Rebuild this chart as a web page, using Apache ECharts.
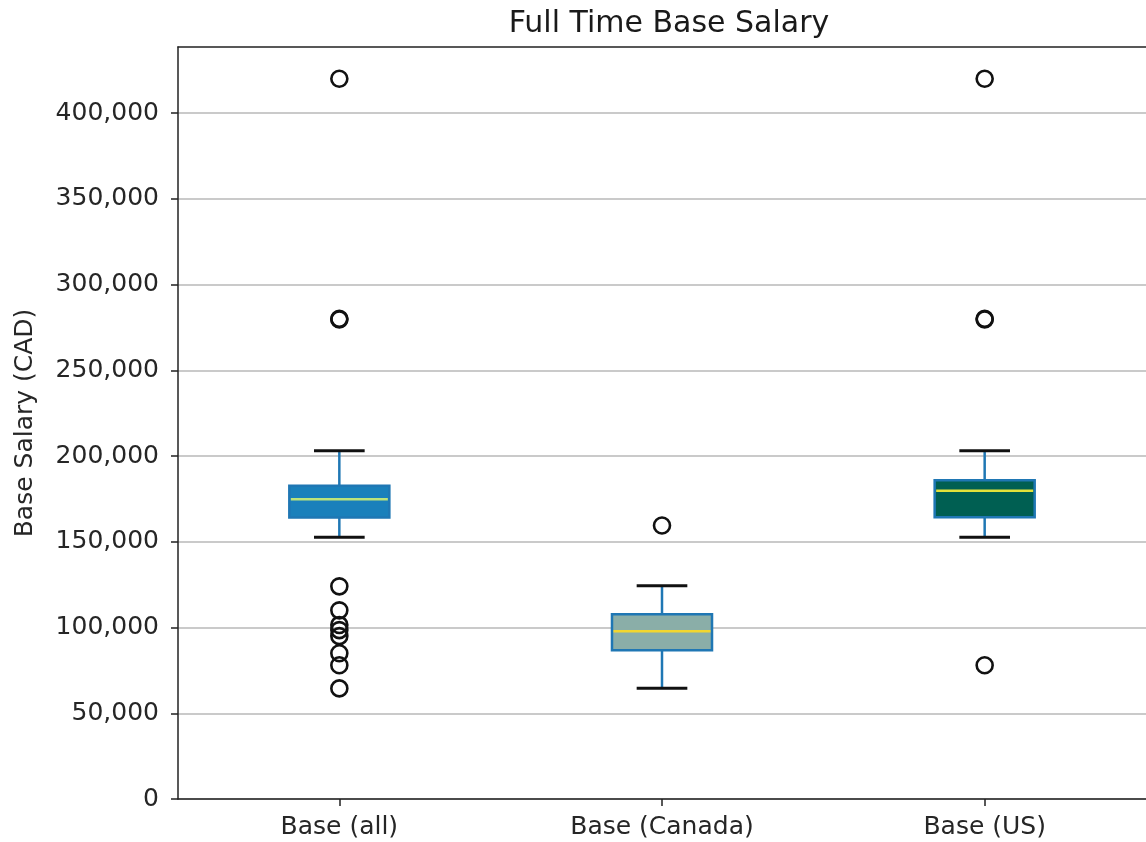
<!DOCTYPE html>
<html>
<head>
<meta charset="utf-8">
<script src="https://cdn.jsdelivr.net/npm/echarts@6/dist/echarts.min.js"></script>
<style>html,body{margin:0;padding:0;background:#fff;}#c{width:1146px;height:842px;}</style>
</head>
<body>
<div id="c"></div>
<script>
// ---- data ----
const categories = ['Base (all)', 'Base (Canada)', 'Base (US)'];
const whiskerLow  = [152700,  64600, 152700];
const q1          = [164100,  86700, 164300];
const median      = [174800,  97800, 179800];
const q3          = [182600, 107700, 185900];
const whiskerHigh = [203000, 124400, 203000];
const outliersAll    = [420000, 280000, 279600, 124000, 110000, 101500, 98500, 95000, 85000, 78000, 64500];
const outliersCanada = [159500];
const outliersUS     = [420000, 280000, 279600, 78000];
const yTicks = [0, 50000, 100000, 150000, 200000, 250000, 300000, 350000, 400000];

// ---- styles ----
const boxFill   = ['#1a80bb', '#8aaea8', '#005f52'];
const medColor  = ['#bde37a', '#f2d62e', '#e3e13a'];
const edgeColor = '#1f77b4';
const FONT = 'DejaVu Sans';
const TXT = '#262626';

const outlierGroups = [outliersAll, outliersCanada, outliersUS];
const outlierData = [];
outlierGroups.forEach((g, i) => g.forEach(v => outlierData.push([i, v])));

const chart = echarts.init(document.getElementById('c'), null, {renderer: 'canvas'});

function renderBox(params, api) {
  const i = api.value(0);
  const band = api.size([1, 0])[0];
  const bw = band * 0.31;
  const cw = band * 0.157;
  const cx = api.coord([i, 0])[0];
  const y = v => api.coord([i, v])[1];
  const yq1 = y(q1[i]), yq3 = y(q3[i]), ymed = y(median[i]);
  const ylo = y(whiskerLow[i]), yhi = y(whiskerHigh[i]);
  return {
    type: 'group',
    children: [
      {type: 'line', shape: {x1: cx, y1: yq3, x2: cx, y2: yhi}, style: {stroke: edgeColor, lineWidth: 2.5}},
      {type: 'line', shape: {x1: cx, y1: yq1, x2: cx, y2: ylo}, style: {stroke: edgeColor, lineWidth: 2.5}},
      {type: 'line', shape: {x1: cx - cw/2, y1: yhi, x2: cx + cw/2, y2: yhi}, style: {stroke: '#111', lineWidth: 3}},
      {type: 'line', shape: {x1: cx - cw/2, y1: ylo, x2: cx + cw/2, y2: ylo}, style: {stroke: '#111', lineWidth: 3}},
      {type: 'rect', shape: {x: cx - bw/2, y: yq3, width: bw, height: yq1 - yq3},
        style: {fill: boxFill[i], stroke: edgeColor, lineWidth: 2.5}},
      {type: 'line', shape: {x1: cx - bw/2 + 1.5, y1: ymed, x2: cx + bw/2 - 1.5, y2: ymed}, style: {stroke: medColor[i], lineWidth: 2.5}}
    ]
  };
}

const option = {
  animation: false,
  backgroundColor: '#ffffff',
  title: {
    text: 'Full Time Base Salary',
    left: 664, top: 4, textAlign: 'center',
    textStyle: {fontFamily: FONT, fontSize: 30, fontWeight: 'normal', color: '#1a1a1a'}
  },
  grid: {left: 178, right: -5, top: 47, bottom: 43, containLabel: false},
  xAxis: [{
    type: 'category', data: categories, boundaryGap: true,
    axisLine: {show: true, lineStyle: {color: '#222', width: 1.5}},
    axisTick: {show: true, alignWithLabel: true, length: 7, lineStyle: {color: '#222', width: 1.5}},
    axisLabel: {fontFamily: FONT, fontSize: 25, color: TXT, margin: 16},
    splitLine: {show: false}
  }, {
    type: 'category', data: categories, position: 'top', z: 10,
    axisLine: {show: true, lineStyle: {color: '#222', width: 1.5}},
    axisTick: {show: false}, axisLabel: {show: false}, splitLine: {show: false}
  }],
  yAxis: {
    type: 'value', min: 0, max: 438500, interval: 50000,
    name: 'Base Salary (CAD)', nameLocation: 'middle', nameRotate: 90, nameGap: 140,
    nameTextStyle: {fontFamily: FONT, fontSize: 25, color: TXT},
    axisLine: {show: true, lineStyle: {color: '#222', width: 1.5}},
    axisTick: {show: true, length: 7, customValues: yTicks, lineStyle: {color: '#222', width: 1.5}},
    axisLabel: {fontFamily: FONT, fontSize: 25, color: TXT, margin: 19, customValues: yTicks,
      formatter: v => v.toLocaleString('en-US')},
    splitLine: {show: true, lineStyle: {color: '#b9b9b9', width: 1.5}}
  },
  series: [{
    type: 'custom',
    data: categories.map((c, i) => [i]),
    encode: {x: 0},
    renderItem: renderBox,
    z: 3
  }, {
    type: 'scatter',
    data: outlierData,
    symbol: 'circle', symbolSize: 16,
    itemStyle: {color: 'rgba(0,0,0,0)', borderColor: '#111', borderWidth: 2.6, opacity: 1},
    z: 4
  }]
};
chart.setOption(option);
</script>
</body>
</html>
